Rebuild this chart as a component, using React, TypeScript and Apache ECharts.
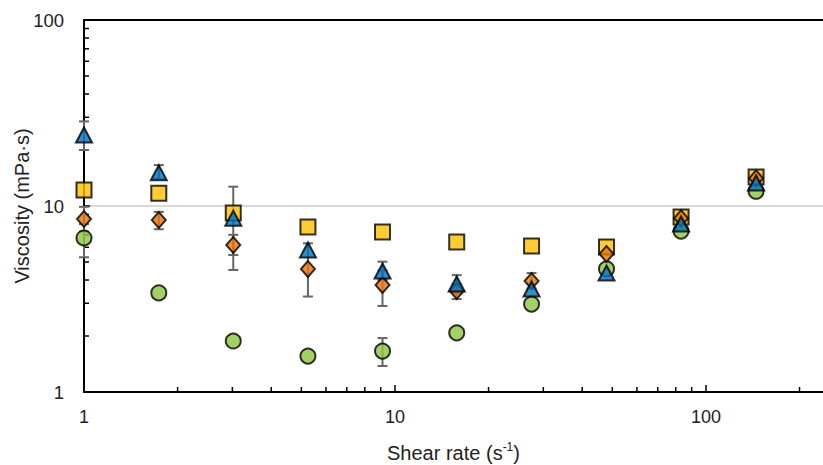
import React, { useEffect, useRef } from "react";
import * as echarts from "echarts";

// Shear rate (s^-1)
const shearRate = [1, 1.74, 3.02, 5.25, 9.12, 15.8, 27.5, 47.9, 83.2, 145];
// Viscosity (mPa·s) per sample
const circles = [6.73, 3.41, 1.88, 1.56, 1.66, 2.08, 2.97, 4.59, 7.33, 12.0];
const diamonds = [8.51, 8.41, 6.17, 4.59, 3.76, 3.49, 3.95, 5.52, 8.6, 14.1];
const triangles = [24.1, 15.1, 8.6, 5.8, 4.47, 3.81, 3.58, 4.36, 8.0, 13.3];
const squares = [12.2, 11.7, 9.17, 7.71, 7.25, 6.4, 6.1, 6.02, 8.73, 14.3];
// error bars: [shear rate, low, high]
const errorBars: number[][] = [
  [1, 20.0, 28.5],
  [1, 7.3, 9.9],
  [1, 5.3, 8.0],
  [1.74, 14.0, 16.6],
  [1.74, 7.5, 9.3],
  [3.02, 5.45, 12.7],
  [3.02, 4.53, 7.0],
  [5.25, 3.26, 6.3],
  [9.12, 4.0, 5.02],
  [9.12, 2.9, 4.5],
  [9.12, 1.38, 1.95],
  [15.8, 3.4, 4.25],
  [15.8, 3.16, 3.8],
  [27.5, 3.6, 4.36],
];
const xTickLabels = ["1", "10", "100"];
const yTickLabels = ["1", "10", "100"];
const xMinorTicks = [2, 3, 4, 5, 6, 7, 8, 9, 20, 30, 40, 50, 60, 70, 80, 90, 200];
const yMinorTicks = [2, 3, 4, 5, 6, 7, 8, 9, 20, 30, 40, 50, 60, 70, 80, 90];

const FONT = "'Liberation Sans', Arial, sans-serif";

export default function App() {
  const ref = useRef<HTMLDivElement>(null);
  useEffect(() => {
    if (!ref.current) return;
    const chart = echarts.init(ref.current, undefined, { renderer: "svg" });
    const pair = (ys: number[]) => shearRate.map((x, i) => [x, ys[i]]);
    const markerStyle = (color: string) => ({
      color,
      borderColor: "#000",
      borderWidth: 2,
    });
    const fmt = (labels: string[]) => (v: number) => {
      const s = String(Math.round(v));
      return labels.includes(s) && Math.abs(v - Math.round(v)) < 1e-6 ? s : "";
    };
    chart.setOption({
      animation: false,
      textStyle: { fontFamily: FONT },
      grid: {
        left: 84,
        right: 0,
        top: 20,
        bottom: 73,
        containLabel: false,
        outerBoundsMode: "none",
      },
      xAxis: [
        {
          type: "log",
          min: 1,
          max: 238,
          logBase: 10,
          name: "{a|Shear rate (s}{b|-1}{a|)}",
          nameLocation: "middle",
          nameGap: 49,
          nameMoveOverlap: false,
          nameTextStyle: {
            rich: {
              a: { fontSize: 20, color: "#222", fontFamily: FONT, lineHeight: 24 },
              b: { fontSize: 12, color: "#222", fontFamily: FONT, verticalAlign: "top", lineHeight: 16 },
            },
          },
          axisLine: { show: true, lineStyle: { color: "#000", width: 2 } },
          axisTick: { show: true, inside: true, length: 7, lineStyle: { color: "#000", width: 1.5 } },
          axisLabel: {
            formatter: fmt(xTickLabels),
            fontSize: 18,
            color: "#222",
            margin: 16,
            fontFamily: FONT,
            showMaxLabel: false,
          },
          splitLine: { show: false },
          minorTick: { show: false },
        },
        {
          type: "log",
          min: 1,
          max: 238,
          position: "top",
          axisLine: { show: true, lineStyle: { color: "#000", width: 2 } },
          axisTick: { show: false },
          axisLabel: { show: false },
          splitLine: { show: false },
        },
      ],
      yAxis: {
        type: "log",
        min: 1,
        max: 100,
        logBase: 10,
        name: "Viscosity (mPa·s)",
        nameLocation: "middle",
        nameGap: 52,
        nameMoveOverlap: false,
        nameTextStyle: { fontSize: 20, color: "#222", fontFamily: FONT },
        axisLine: { show: true, lineStyle: { color: "#000", width: 2 } },
        axisTick: { show: true, inside: true, length: 6, lineStyle: { color: "#000", width: 1.5 } },
        axisLabel: { formatter: fmt(yTickLabels), fontSize: 18.5, color: "#222", margin: 20, fontFamily: FONT },
        splitLine: { show: true, lineStyle: { color: "#d9d9d9", width: 2 } },
      },
      series: [
        {
          type: "custom",
          name: "xMinor",
          silent: true,
          z: 5,
          data: xMinorTicks.map((v) => [v, 1]),
          renderItem: (params: any, api: any) => {
            const p = api.coord([api.value(0), 1]);
            return {
              type: "line",
              shape: { x1: p[0], y1: p[1], x2: p[0], y2: p[1] - 5 },
              style: { stroke: "#000", lineWidth: 1.5 },
            };
          },
        },
        {
          type: "custom",
          name: "yMinor",
          silent: true,
          z: 5,
          data: yMinorTicks.map((v) => [1, v]),
          renderItem: (params: any, api: any) => {
            const p = api.coord([1, api.value(1)]);
            return {
              type: "line",
              shape: { x1: p[0], y1: p[1], x2: p[0] + 5, y2: p[1] },
              style: { stroke: "#000", lineWidth: 1.5 },
            };
          },
        },
        {
          type: "custom",
          name: "errors",
          silent: true,
          z: 6,
          data: errorBars,
          encode: { x: 0, y: [1, 2] },
          renderItem: (params: any, api: any) => {
            const x = api.value(0);
            const lo = api.coord([x, api.value(1)]);
            const hi = api.coord([x, api.value(2)]);
            const w = 5;
            const st = { stroke: "#666", lineWidth: 2 };
            return {
              type: "group",
              children: [
                { type: "line", shape: { x1: lo[0], y1: lo[1], x2: hi[0], y2: hi[1] }, style: st },
                { type: "line", shape: { x1: lo[0] - w, y1: lo[1], x2: lo[0] + w, y2: lo[1] }, style: st },
                { type: "line", shape: { x1: hi[0] - w, y1: hi[1], x2: hi[0] + w, y2: hi[1] }, style: st },
              ],
            };
          },
        },
        {
          type: "scatter",
          name: "squares",
          z: 10,
          symbol: "rect",
          symbolSize: 15,
          itemStyle: markerStyle("#FFC000"),
          data: pair(squares),
        },
        {
          type: "scatter",
          name: "circles",
          z: 11,
          symbol: "circle",
          symbolSize: 15,
          itemStyle: markerStyle("#8DC63F"),
          data: pair(circles),
        },
        {
          type: "scatter",
          name: "diamonds",
          z: 12,
          symbol: "diamond",
          symbolSize: [14, 16],
          itemStyle: markerStyle("#E8740C"),
          data: pair(diamonds),
        },
        {
          type: "scatter",
          name: "triangles",
          z: 13,
          symbol: "triangle",
          symbolSize: [16, 15],
          itemStyle: markerStyle("#0070C0"),
          data: pair(triangles),
        },
      ],
    });
    return () => chart.dispose();
  }, []);
  return (
    <div
      ref={ref}
      style={{ position: "absolute", left: 0, top: 0, width: 823, height: 465 }}
    />
  );
}
